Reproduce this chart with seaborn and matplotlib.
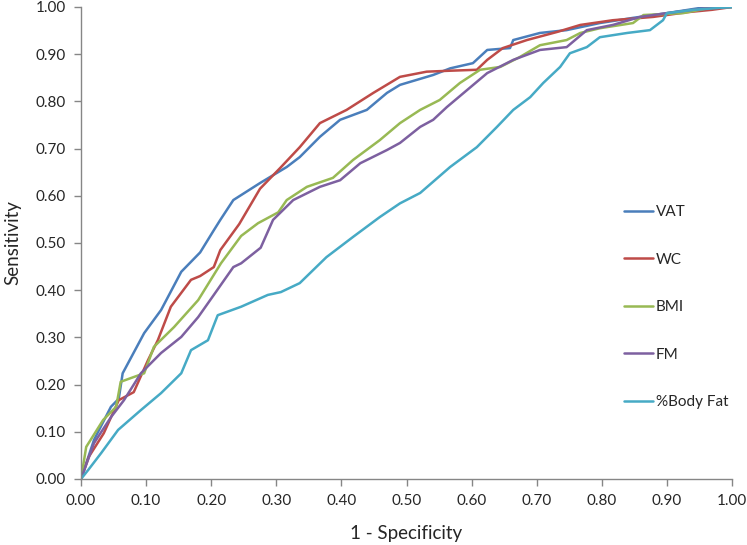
import numpy as np
import pandas as pd
import seaborn as sns
import matplotlib
matplotlib.use("Agg")
import matplotlib.pyplot as plt

# ROC curves (x = 1 - specificity, y = sensitivity)
vat_x = [0, 0.02, 0.046, 0.058, 0.064, 0.097, 0.123, 0.154, 0.183, 0.204, 0.214, 0.234, 0.275,
         0.316, 0.336, 0.367, 0.398, 0.439, 0.47, 0.49, 0.541, 0.567, 0.602, 0.624, 0.659,
         0.664, 0.705, 0.746, 0.797, 0.848, 0.9, 0.951, 0.97, 1.0]
vat_y = [0, 0.083, 0.153, 0.17, 0.224, 0.309, 0.358, 0.439, 0.48, 0.527, 0.549, 0.591, 0.627,
         0.661, 0.682, 0.725, 0.761, 0.782, 0.818, 0.835, 0.856, 0.87, 0.881, 0.909, 0.913,
         0.93, 0.945, 0.951, 0.966, 0.977, 0.987, 0.998, 1.0, 1.0]

wc_x = [0, 0.012, 0.035, 0.058, 0.081, 0.103, 0.118, 0.138, 0.169, 0.183, 0.204, 0.214, 0.243,
        0.275, 0.306, 0.336, 0.367, 0.408, 0.449, 0.49, 0.531, 0.567, 0.608, 0.624, 0.648,
        0.685, 0.731, 0.767, 0.817, 0.879, 0.931, 0.969, 1.0]
wc_y = [0, 0.047, 0.097, 0.167, 0.184, 0.252, 0.294, 0.365, 0.422, 0.43, 0.449, 0.485, 0.54,
        0.615, 0.659, 0.703, 0.754, 0.782, 0.818, 0.852, 0.863, 0.865, 0.867, 0.888, 0.913,
        0.93, 0.947, 0.962, 0.972, 0.979, 0.989, 0.994, 1.0]

bmi_x = [0, 0.008, 0.034, 0.054, 0.061, 0.097, 0.112, 0.143, 0.18, 0.215, 0.246, 0.272, 0.303,
         0.316, 0.347, 0.387, 0.418, 0.459, 0.49, 0.521, 0.551, 0.582, 0.613, 0.644, 0.674,
         0.705, 0.746, 0.767, 0.797, 0.848, 0.864, 0.925, 0.965, 1.0]
bmi_y = [0, 0.068, 0.125, 0.153, 0.206, 0.224, 0.28, 0.322, 0.379, 0.457, 0.515, 0.542, 0.565,
         0.591, 0.619, 0.638, 0.676, 0.718, 0.754, 0.782, 0.803, 0.839, 0.867, 0.873, 0.894,
         0.919, 0.93, 0.945, 0.955, 0.966, 0.983, 0.987, 0.998, 1.0]

fm_x = [0, 0.02, 0.046, 0.066, 0.092, 0.123, 0.154, 0.18, 0.204, 0.234, 0.246, 0.276, 0.295,
        0.326, 0.367, 0.398, 0.429, 0.47, 0.49, 0.521, 0.541, 0.562, 0.593, 0.624, 0.664,
        0.705, 0.746, 0.777, 0.817, 0.859, 0.9, 0.94, 0.966, 1.0]
fm_y = [0, 0.076, 0.131, 0.167, 0.224, 0.267, 0.301, 0.343, 0.39, 0.449, 0.457, 0.49, 0.549,
        0.591, 0.619, 0.633, 0.669, 0.697, 0.712, 0.746, 0.761, 0.788, 0.824, 0.86, 0.888,
        0.909, 0.915, 0.951, 0.962, 0.979, 0.987, 0.994, 0.998, 1.0]

bf_x = [0, 0.011, 0.031, 0.057, 0.092, 0.123, 0.154, 0.169, 0.195, 0.21, 0.246, 0.287, 0.307,
        0.336, 0.377, 0.418, 0.459, 0.49, 0.521, 0.567, 0.608, 0.639, 0.664, 0.69, 0.71,
        0.736, 0.751, 0.777, 0.797, 0.839, 0.874, 0.894, 0.9, 0.94, 1.0]
bf_y = [0, 0.019, 0.055, 0.104, 0.146, 0.182, 0.224, 0.273, 0.294, 0.347, 0.365, 0.39, 0.396,
        0.415, 0.47, 0.513, 0.555, 0.584, 0.606, 0.661, 0.703, 0.746, 0.782, 0.809, 0.839,
        0.873, 0.902, 0.915, 0.936, 0.945, 0.951, 0.972, 0.987, 0.994, 1.0]

labels = ["VAT", "WC", "BMI", "FM", "%Body Fat"]
colors = ["#4A7EBB", "#BE4B48", "#98B954", "#7D60A0", "#46AAC5"]

series = [(vat_x, vat_y), (wc_x, wc_y), (bmi_x, bmi_y), (fm_x, fm_y), (bf_x, bf_y)]
frames = []
for lab, (xs, ys) in zip(labels, series):
    frames.append(pd.DataFrame({"spec": xs, "sens": ys, "Marker": lab}))
df = pd.concat(frames, ignore_index=True)

sns.set_style("white")
plt.rcParams['font.family'] = ['Lato', 'DejaVu Sans']

fig = plt.figure(figsize=(7.47, 5.45), dpi=100)
ax = fig.add_axes([81 / 747, 66 / 545, 651 / 747, 472 / 545])

sns.lineplot(data=df, x="spec", y="sens", hue="Marker", hue_order=labels,
             palette=colors, sort=False, estimator=None, linewidth=1.8, ax=ax)

ax.set_xlim(0, 1)
ax.set_ylim(0, 1)
ticks = np.arange(0, 1.01, 0.1)
ax.set_xticks(ticks)
ax.set_yticks(ticks)
ax.set_xticklabels(["%.2f" % t for t in ticks], fontsize=11)
ax.set_yticklabels(["%.2f" % t for t in ticks], fontsize=11)
ax.tick_params(axis="both", direction="out", length=5, width=1, color="#868686",
               pad=6, bottom=True, left=True)

for side in ["top", "right"]:
    ax.spines[side].set_visible(False)
for side in ["left", "bottom"]:
    ax.spines[side].set_color("#868686")
    ax.spines[side].set_linewidth(1)

ax.set_xlabel("1 - Specificity", fontsize=13.5, labelpad=12)
ax.set_ylabel("Sensitivity", fontsize=13.5, labelpad=10)

ax.legend(frameon=False, loc="upper left", bbox_to_anchor=(624 / 747, 340 / 545),
          bbox_transform=fig.transFigure, fontsize=11, handlelength=1.9,
          handletextpad=0.2, labelspacing=2.2, borderpad=0, borderaxespad=0)

fig.savefig("out.png", dpi=100)
